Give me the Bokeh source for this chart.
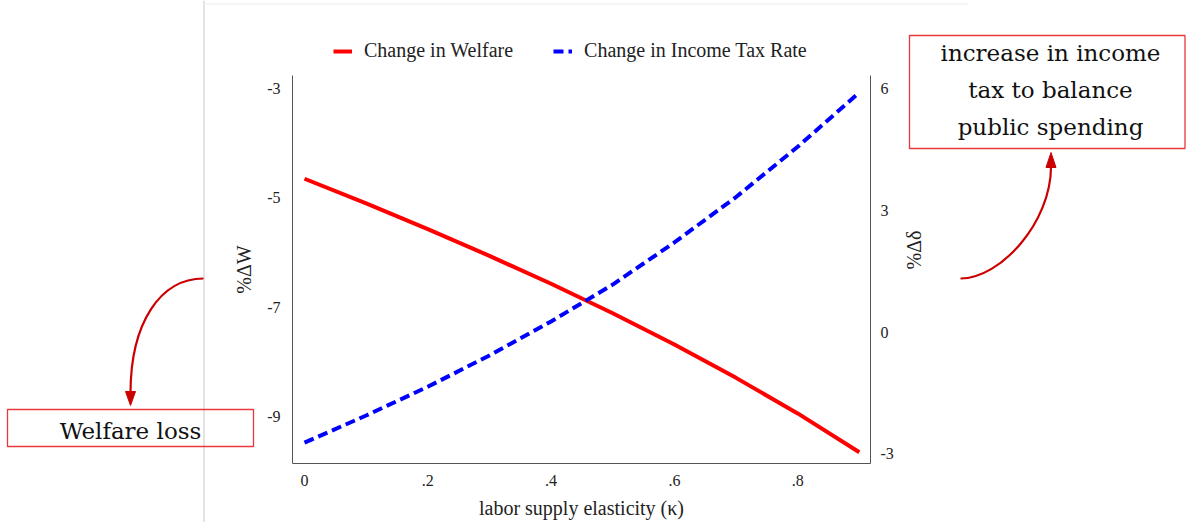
import math
from bokeh.plotting import figure
from bokeh.models import (Range1d, LinearAxis, FixedTicker, CustomJSTickFormatter,
                          Legend, LegendItem)
from bokeh.core.properties import value
from bokeh.embed import file_html
from bokeh.resources import INLINE

# ---------------- data ----------------
kappa = [0.0, 0.1, 0.2, 0.3, 0.4, 0.5, 0.6, 0.7, 0.8, 0.9]
welfare_change = [-4.65, -5.10, -5.57, -6.06, -6.57, -7.11, -7.68, -8.29, -8.94, -9.65]
tax_change = [-2.73, -2.06, -1.35, -0.58, 0.26, 1.17, 2.21, 3.33, 4.57, 5.91]

x_ticks = [0, 0.2, 0.4, 0.6, 0.8]
left_ticks = [-9, -7, -5, -3]
right_ticks = [-3, 0, 3, 6]

legend_labels = ["Change in Welfare", "Change in Income Tax Rate"]
x_title = "labor supply elasticity (κ)"
left_title = "%ΔW"
right_title = "%Δδ"
note_right = ["increase in income", "tax to balance", "public spending"]
note_left = "Welfare loss"

# ---------------- layout calibration (pixels of the 1186x522 page) ----------------
W, H = 1186, 522
X0_PX, X_PX_PER_UNIT = 304.0, 616.5        # kappa = 0 at x=304
YL_PX_AT_M3, YL_PX_PER_UNIT = 88.0, 54.7   # left axis: -3 at y=88
YR_PX_AT_0, YR_PX_PER_UNIT = 331.5, 40.53  # right axis: 0 at y=331.5
FRAME_L, FRAME_R, FRAME_T, FRAME_B = 292, 870, 75, 463


def xd(px):
    return (px - X0_PX) / X_PX_PER_UNIT


def yl(py):
    return -3 - (py - YL_PX_AT_M3) / YL_PX_PER_UNIT


def yr(py):
    return (YR_PX_AT_0 - py) / YR_PX_PER_UNIT


SERIF = "Liberation Serif"
NOTE_FONT = "DejaVu Serif"

p = figure(width=W, height=H, output_backend="svg", toolbar_location=None,
           x_range=Range1d(xd(0), xd(W)), y_range=Range1d(yl(H), yl(0)),
           x_axis_type=None, y_axis_type=None,
           min_border=0, min_border_left=0, min_border_right=0,
           min_border_top=0, min_border_bottom=0)
p.extra_y_ranges = {"tax": Range1d(yr(H), yr(0))}
p.outline_line_color = None
p.background_fill_color = "white"
p.border_fill_color = "white"


def style_axis(ax):
    ax.major_tick_line_color = None
    ax.minor_tick_line_color = None
    ax.major_tick_out = 0
    ax.major_tick_in = 0
    ax.minor_tick_out = 0
    ax.minor_tick_in = 0
    ax.axis_line_color = "#555555"
    ax.axis_line_width = 1
    ax.major_label_text_font = SERIF
    ax.major_label_text_font_size = "16px"
    ax.major_label_text_color = "#222222"
    ax.axis_label_text_font = SERIF
    ax.axis_label_text_font_size = "20px"
    ax.axis_label_text_font_style = "normal"
    ax.axis_label_text_color = "#222222"


plain_fmt = "return tick.toString();"

ax_left = LinearAxis(ticker=FixedTicker(ticks=left_ticks), fixed_location=xd(FRAME_L),
                     bounds=(yl(FRAME_B), yl(FRAME_T)), axis_label=left_title,
                     formatter=CustomJSTickFormatter(code=plain_fmt))
style_axis(ax_left)
ax_left.major_label_standoff = 12
ax_left.axis_label_standoff = 9
p.add_layout(ax_left, "left")

ax_right = LinearAxis(ticker=FixedTicker(ticks=right_ticks), y_range_name="tax",
                      fixed_location=xd(FRAME_R),
                      bounds=(yr(FRAME_B), yr(FRAME_T)), axis_label=right_title,
                      formatter=CustomJSTickFormatter(code=plain_fmt))
style_axis(ax_right)
ax_right.major_label_standoff = 10
ax_right.axis_label_standoff = 17
ax_right.axis_label_orientation = math.pi / 2
p.add_layout(ax_right, "right")

ax_bottom = LinearAxis(ticker=FixedTicker(ticks=x_ticks), fixed_location=yl(FRAME_B),
                       bounds=(xd(FRAME_L), xd(FRAME_R)), axis_label=x_title,
                       formatter=CustomJSTickFormatter(code="""
                           if (tick == 0) return "0";
                           return tick.toFixed(1).replace(/^0/, "").replace(/^-0/, "-");
                       """))
style_axis(ax_bottom)
ax_bottom.major_label_standoff = 11
ax_bottom.axis_label_standoff = 8
p.add_layout(ax_bottom, "below")

# ---------------- decorations of the page ----------------
p.segment(x0=[xd(203.5)], y0=[yl(0)], x1=[xd(203.5)], y1=[yl(H)],
          line_color="#c8c8c8", line_width=1)
p.segment(x0=[xd(203.5)], y0=[yl(3.5)], x1=[xd(968)], y1=[yl(3.5)],
          line_color="#ececec", line_width=1)

# ---------------- data lines ----------------
r_w = p.line(kappa, welfare_change, line_color="#ff0000", line_width=4)
r_t = p.line(kappa, tax_change, y_range_name="tax", line_color="#0000ff", line_width=4,
             line_dash="10 5", line_cap="butt")

legend = Legend(items=[LegendItem(label=legend_labels[0], renderers=[r_w]),
                       LegendItem(label=legend_labels[1], renderers=[r_t])],
                orientation="horizontal", location=(333, H - 62))
legend.padding = 0
legend.margin = 0
legend.border_line_color = None
legend.background_fill_alpha = 0
legend.glyph_width = 19
legend.glyph_height = 20
legend.label_height = 20
legend.label_standoff = 12
legend.spacing = 40
legend.label_text_font = SERIF
legend.label_text_font_size = "20px"
legend.label_text_color = "#222222"
p.add_layout(legend, "center")

# ---------------- annotation boxes, texts and curved arrows ----------------
ARROW_RED = "#cc0000"
BOX_RED = "#e8383d"

# right note box
p.quad(left=[xd(909)], right=[xd(1184.5)], top=[yl(35)], bottom=[yl(148)],
       fill_color=None, line_color=BOX_RED, line_width=1.3)
p.text(x=[xd(1050)] * 3, y=[yl(52), yl(89), yl(126)], text=note_right,
       text_font=value(NOTE_FONT), text_font_size="23px", text_color="#111111",
       text_align="center", text_baseline="alphabetic")

# left note box
p.quad(left=[xd(7)], right=[xd(253)], top=[yl(409)], bottom=[yl(446)],
       fill_color=None, line_color=BOX_RED, line_width=1.3)
p.text(x=[xd(130)], y=[yl(430)], text=[note_left],
       text_font=value(NOTE_FONT), text_font_size="23px", text_color="#111111",
       text_align="center", text_baseline="alphabetic")

# curved arrows (cubic Bezier + triangular head)
p.bezier(x0=[xd(960), xd(203)], y0=[yl(278), yl(278)],
         x1=[xd(1050.5), xd(130)], y1=[yl(166), yl(393)],
         cx0=[xd(1000), xd(160)], cy0=[yl(278), yl(278)],
         cx1=[xd(1050.5), xd(130)], cy1=[yl(222), yl(322)],
         line_color=ARROW_RED, line_width=2.2)
p.patches(xs=[[xd(1045.5), xd(1055.5), xd(1050.5)], [xd(125), xd(135), xd(130)]],
          ys=[[yl(167), yl(167), yl(152)], [yl(391), yl(391), yl(405)]],
          fill_color=ARROW_RED, line_color=ARROW_RED, line_width=1)

open("out.html", "w").write(file_html(p, INLINE))
